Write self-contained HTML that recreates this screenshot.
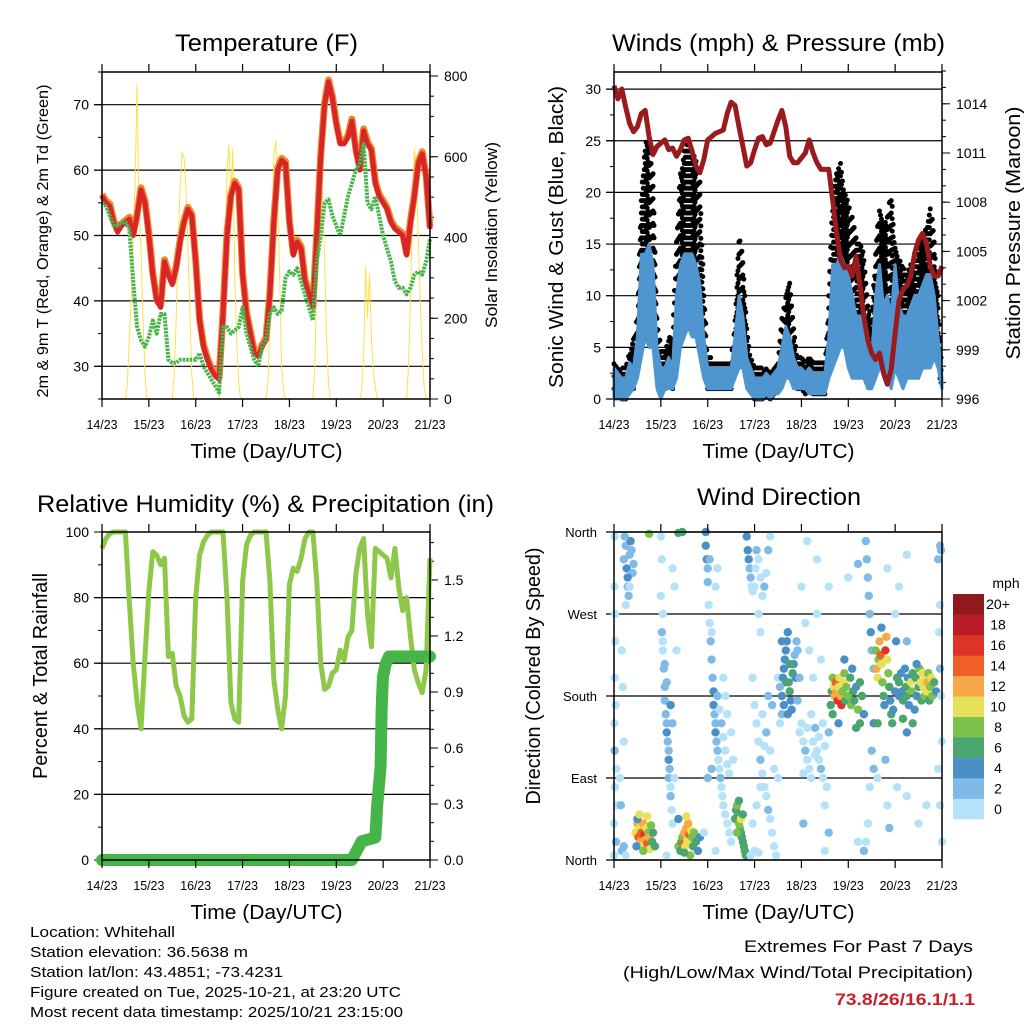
<!DOCTYPE html>
<html><head><meta charset="utf-8"><style>
html,body{margin:0;padding:0;background:#fff;}
svg{display:block;font-family:"Liberation Sans",sans-serif;}
</style></head><body>
<svg id="chart" width="1024" height="1024" viewBox="0 0 1024 1024" xmlns="http://www.w3.org/2000/svg">
<rect x="0" y="0" width="1024" height="1024" fill="#fff"/>
</svg>
<script>
// ---------- DATA ----------
const dayLabels = ['14/23','15/23','16/23','17/23','18/23','19/23','20/23','21/23'];
const hours2 = []; for (let h = 0; h <= 168; h += 2) hours2.push(h);
const tempRed = [56,55,54.5,52,50.5,51.5,52,52.5,50,53,57,55,50,44,40,39,46,44,42.5,45,49,52,54,53,46,37,33,31,29.5,28.5,28,38,50,56,58,57,44,38,35,32,31.5,33,34,41,52,60,61.5,61,52,47,49,48,43,41,39,50,62,70,73.5,71,67,64,64,65,67.5,63,60,66,64,63,58,56,55,54,52,51,50.5,50,47,52,56,61,62.5,59,51];
const dewGreen = [55,54.5,53,51.5,51.5,52,52,51,43,36,34,33,34.5,37,35,38,38,31,30.5,30.5,31,31,31,31,31,32,30,29,28,27,26,36,36,35,35.5,36,39,35,33,31,30,33,34,38,39,38,38.5,43.5,44.5,44,45,43,41,39,37,46,50,55,55.5,53,51.5,50,53,56,58,60,61,64,55,54,56,53,50,48,46,43,42,42,41,42,44,44.5,44,46,49.5];
const solarDay = [
 [0,40,150,250,400,550,780,450,380,200,60,0],
 [0,60,200,380,530,610,600,520,380,220,60,0],
 [0,50,180,350,560,630,500,620,300,150,40,0],
 [0,40,180,380,600,640,500,300,80,20,0,0],
 [0,80,300,480,560,500,350,150,40,0,0,0],
 [0,20,100,330,200,310,150,60,30,0,0,0],
 [0,80,250,450,620,560,400,250,120,30,0,0]
];
const windLo = [0,0,0,0,0.5,1,2,4,6,5,5,1,0,1,1,1,2,5,6,7,6,6,4,2,1,1,1,1,1,1,1,2,3,3,1,0.5,0,0,0,0.5,0,0.5,0.5,1,2,2,1,1,1,1,0.5,0.5,0.5,0.5,0.5,2,3,4,5,5,3,2,2,2,2,1,1,2,3,3,2,1,3,2,1,2,2,2,2,3,3,3,4,3,1,0];
const windHi = [3,2.5,2,2,3.5,3,6,14,14,15,13,5,3,3,4,3,10,13,14,14,14,13,11,6,3,3,3,3,3,3,3,6,10,8,4,3,2,2,2,2.5,2,2.5,3,5,7,6,4,3,3,2.5,3,2.5,2.5,2.5,2.5,6,13,13,14,13,12,10,8,8,7,5,4,10,13,9,10,8,13,9,8,8,9,10,10,11,12,12,10,6,2];
const gustHi = [4,3,3,3.5,4.5,6,8,20,25,25,22,8,5,5,6,6,16,22,24,26,24,23,21,11,4,4,3.5,3.5,3.5,3.5,4,8,16,14,7,4,3,3,3,3,3,3,4,8,10,12,7,4.5,4.5,3.5,4,3.5,3.5,3.5,3.5,10,20,22,23,20,19,18,16,15,14,10,7,15,19,17,18,20,15,14,13,12,13,13,16,16,17,19,16,10,3];
const pressure = [1015.1,1014.3,1014.9,1013.8,1012.8,1012.3,1012.6,1013.4,1013.6,1012,1010.9,1011.4,1011.6,1011.8,1011.2,1011.3,1010.8,1011.2,1011.8,1011.9,1011.1,1010.2,1009.8,1010.6,1011.8,1012,1012.2,1012.3,1012.4,1013.4,1014.1,1013.9,1012.6,1011.4,1010.2,1010.4,1011.2,1011.9,1012,1011.5,1011.6,1012.3,1013,1013.6,1012.6,1010.8,1010.4,1010.4,1010.7,1011,1011.8,1011,1010.4,1010,1010,1010,1008.1,1006.1,1004.5,1004,1004.1,1003.5,1004.7,1002.9,1001,999.6,998.8,998.4,998.8,997.6,996.9,997.8,1000,1002,1002.7,1002.9,1003.5,1004.9,1005.7,1006.1,1005.5,1004.1,1003.5,1003.5,1004.1];
const rhValues = [95,98,99.5,100,100,100,100,79,60,48,40,62,82,94,93,90,92,62,63,53,50,44,42,43,80,93,97,99,100,100,100,100,80,48,43,42,85,96,99,100,100,100,100,85,55,46,40,50,84,89,88,92,98,100,100,85,60,52,53,57,58,64,61,68,70,87,95,98,75,65,95,94,93,92,86,95,83,76,80,68,58,54,51,58,92];
const rainHours = [0,128,130,133,140,141,142.7,143.2,143.9,145.3,147,168];
const rainTotals = [0,0,0.04,0.1,0.12,0.3,0.5,0.8,0.98,1.05,1.09,1.09];
const wdHour = [0,0,0.5,0.3,0.2,0.4,0.6,0.2,0.3,1,1.5,0.8,1.2,0.5,
5,6,6.5,7,7.5,8,8.5,9,9.5,10,5.5,7,8,6,4,4.5,5,3,3.5,4,5,6,
11,12,12.5,13,13.5,14,14.5,15,15.5,16,16.5,17,17.5,18,18.5,19,19.5,20,21,12,11.5,13,15,17,
24,24.5,25,24.5,25,25.5,26,26,26.5,27,27,27.5,28,28,28.5,28,29,29,29.5,30,30,29,27,26,25,24,31,32,30,31,27,
33,34,34.5,35,35.5,36,36.5,37,37.5,38,38.5,39,39.5,40,40.5,41,42,43,44,33,37,39,36,18,33,35,
47,47,47.5,48,48,48.5,49,49.5,50,50.5,51,51,51.5,52,52,52.5,53,53.5,54,54.5,55,55.5,56,57,58,59,60,53,54,55,56,57,58,59,50,52,53,49,56,57,58,60,61,50,48,46,52,
62,62.5,63,63.5,64,64.5,65,65.5,66,66.5,67,65,64,66,63,67.5,
68,68.5,69,69.5,70,70.5,71,72,72.5,73,74,75,76,77,78,79,80,74,75,
71,72,73,74,75,76,77,78,79,80,81,82,83,76,78,80,82,84,85,86,84,79,81,77,75,73,71,70,72,74,
86,86.5,87,87.5,88,88.5,89,89.5,90,90.5,91,91.5,92,92.5,93,94,93.5,89,87,90,88,86,85,94,95,
95,96,97,98,99,100,101,102,103,104,105,106,107,108,109,110,97,99,101,103,105,107,100,98,104,96,102,106,108,110,108,97,
111,111.5,112,112.5,113,113.5,114,114.5,115,115.5,116,116.5,117,117.5,118,118.5,119,120,121,121.5,122,122.5,123,124,125,126,127,128,126,124,112,115,118,
129,129.5,130,130.5,131,131.5,132,133,132,133,131,130,129,133,
134,134.5,135,135.5,136,136.5,137,137.5,138,138.5,139,139.5,140,140.5,141,141.5,142,142.5,143,144,144.5,145,146,135,137,139,
146,147,147.5,148,149,149.5,150,150.5,151,152,152.5,153,154,154.5,155,156,156.5,157,157.5,158,158.5,159,159.5,160,160.5,161,161.5,162,162.5,163,164,165,148,153,150,155,
166,167,167,166.5,167,167.5,168,167,168,166,167.5,
99,104,110,120,125,140,150,146,135,140,145,150,125,128,141,156,160,150,144];
const wdDir = [5,40,80,120,150,200,240,300,355,20,60,170,100,270,
330,345,320,300,290,335,350,340,315,325,355,310,300,280,230,190,130,90,60,10,15,5,
30,40,25,35,20,30,15,40,28,22,35,18,30,25,12,38,20,30,15,45,15,50,10,48,
355,330,270,250,230,210,190,175,160,150,140,130,120,110,100,90,80,70,55,40,150,170,195,215,240,290,90,230,320,300,5,
15,10,20,25,18,30,15,35,22,40,28,20,32,25,15,30,20,10,25,45,48,5,8,358,359,360,
360,345,330,320,305,280,260,240,220,200,185,170,160,150,140,130,120,110,100,90,80,70,60,50,40,30,20,180,165,150,135,120,105,95,250,300,320,330,200,180,160,140,110,100,90,30,10,
45,55,60,50,40,35,30,25,20,15,10,45,65,50,30,5,
355,340,330,320,310,300,295,300,320,340,330,310,290,300,315,340,355,270,250,
200,170,150,130,110,95,80,70,55,45,30,15,5,160,140,120,100,90,150,160,200,180,170,125,80,60,40,5,10,8,
180,200,210,220,230,240,250,195,185,175,165,205,215,225,200,175,240,160,170,215,195,240,190,230,200,
140,150,130,120,110,100,90,130,145,120,110,100,90,125,80,140,95,145,160,115,135,150,230,260,270,300,200,220,60,30,10,40,
170,185,200,190,180,195,185,175,190,200,180,170,185,195,205,175,190,180,200,170,210,185,175,190,165,195,180,160,150,145,160,150,220,
350,330,310,290,270,250,230,210,120,100,80,40,20,150,
230,210,200,220,240,225,215,195,180,170,230,245,220,205,190,175,160,150,165,185,240,200,180,150,255,110,
195,205,185,175,210,190,180,200,170,195,185,205,165,200,180,190,210,195,175,205,190,180,200,185,195,205,175,190,200,180,195,185,155,150,140,215,
330,345,280,250,210,180,130,60,20,100,340,
350,330,300,310,325,320,335,300,90,60,80,70,20,10,35,40,60,240,270];
const wdSpeed = [1,1,1,2,1,1,1,1,1,3,1,1,1,1,
2,3,4,3,2,3,4,2,3,2,2,4,1,1,1,1,1,1,2,3,2,1,
10,12,14,11,12,15,10,12,16,13,11,14,9,12,11,8,7,6,6,4,5,10,8,11,
1,1,1,2,1,2,2,3,2,3,4,2,3,4,2,3,1,2,1,1,3,4,3,2,1,1,1,1,1,1,1,
8,6,7,9,14,12,11,13,10,12,15,11,10,9,7,8,6,5,4,5,10,9,7,8,7,7,
4,4,4,3,2,1,1,2,2,3,4,4,3,2,4,2,3,1,1,3,1,1,1,1,1,1,1,2,1,2,1,1,1,1,1,1,1,2,1,1,1,1,1,2,2,1,1,
7,6,8,7,8,9,7,6,6,7,6,10,6,7,8,6,
4,4,4,3,2,1,1,1,1,2,1,1,1,3,1,2,1,1,1,
1,1,1,1,2,1,1,1,3,1,1,1,1,1,2,1,1,1,1,3,1,2,3,1,1,1,1,1,1,1,
5,4,5,4,5,4,4,6,7,5,4,6,5,3,4,3,3,4,5,7,6,4,3,3,2,
1,1,1,2,1,1,1,1,2,1,1,3,1,1,1,2,1,1,1,1,1,1,1,1,1,1,1,1,1,3,1,2,
6,7,8,10,12,14,13,16,11,10,12,16,9,10,8,7,9,8,6,8,5,7,6,5,8,6,7,4,7,6,7,4,5,
3,2,3,2,2,4,3,3,3,2,1,1,1,4,
8,12,10,9,12,14,10,8,6,5,16,12,11,9,6,5,6,7,4,5,4,6,4,6,4,3,
6,5,4,6,4,7,6,5,4,10,8,6,5,7,4,6,8,10,6,11,10,9,11,10,12,8,7,9,10,8,6,5,6,6,4,4,
3,2,1,1,2,1,1,1,1,1,3,
1,1,1,1,3,1,1,1,1,1,1,1,1,2,2,1,1,3,1];
const speedColors = ['#b5e2f8','#7fbbe6','#4a8fc6','#4aa56f','#7bc24c','#e6e05a','#f7a847','#ef6029','#dd3328','#b81c24','#8e1a1c'];
const speedLabels = ['0','2','4','6','8','10','12','14','16','18','20+'];
const tempTicks = [30,40,50,60,70];
const solarTicks = [0,200,400,600,800];
const windTicks = [0,5,10,15,20,25,30];
const pressTicks = [996,999,1002,1005,1008,1011,1014];
const rhTicks = [0,20,40,60,80,100];
const rainTicks = ['0.0','0.3','0.6','0.9','1.2','1.5'];
const dirTicks = ['North','East','South','West','North'];

// ---------- HELPERS ----------
const NS = 'http://www.w3.org/2000/svg';
const svg = document.getElementById('chart');
function mk(tag, attrs, parent) {
  const e = document.createElementNS(NS, tag);
  for (const k in attrs) e.setAttribute(k, attrs[k]);
  (parent || svg).appendChild(e);
  return e;
}
function txt(x, y, s, size, anchor, extra) {
  const e = mk('text', Object.assign({x: x, y: y, 'font-size': size, 'text-anchor': anchor || 'middle', fill: '#000'}, extra || {}));
  e.textContent = s;
  return e;
}
function vtxt(x, y, s, size, len) {
  const e = mk('text', {x: 0, y: 0, 'font-size': size, 'text-anchor': 'middle', fill: '#000', transform: 'translate(' + x + ',' + y + ') rotate(-90)', textLength: len, lengthAdjust: 'spacingAndGlyphs'});
  e.textContent = s;
  return e;
}
const P1 = {x: 102, y: 72, w: 328, h: 327};
const P2 = {x: 614, y: 72, w: 328, h: 327};
const P3 = {x: 102, y: 532, w: 328, h: 328};
const P4 = {x: 614, y: 532, w: 328, h: 328};
const xs = (P, t) => P.x + t / 168 * P.w;
const yT = v => 399 - (v - 25) / 50 * 327;
const yS = v => 399 - v / 800 * 323;
const yW = v => 399 - v * 10.33;
const yP = p => 399 - (p - 996) * 16.4;
const yR = v => 860 - v * 3.28;
const yRain = v => 860 - v * 186.7;
const yD = d => 860 - d / 360 * 328;

function grid(P, vals, yf, name) {
  vals.forEach(v => {
    const y = yf(v);
    const l = mk('line', {x1: P.x - 8, x2: P.x + P.w, y1: y, y2: y, stroke: '#000', 'stroke-width': 1.2});
    
    
  });
}
function frame(P, name) {
  const r = mk('rect', {x: P.x, y: P.y, width: P.w, height: P.h, fill: 'none', stroke: '#000', 'stroke-width': 1.5});
  
  
  for (let d = 0; d <= 7; d++) {
    const x = xs(P, d * 24);
    const t1 = mk('line', {x1: x, x2: x, y1: P.y, y2: P.y - 8, stroke: '#000', 'stroke-width': 1.2});
    
    
    const t2 = mk('line', {x1: x, x2: x, y1: P.y + P.h, y2: P.y + P.h + 8, stroke: '#000', 'stroke-width': 1.2});
    
    
    const lb = txt(x, P.y + P.h + 30, dayLabels[d], 13, 'middle', {textLength: 31, lengthAdjust: 'spacingAndGlyphs'});
    
    
  }
  const xt = txt(P.x + P.w / 2 + 0.5, P.y + P.h + 59, 'Time (Day/UTC)', 20, 'middle', {textLength: 152, lengthAdjust: 'spacingAndGlyphs'});
  
  
}
function yticks(P, side, vals, yf, len, name) {
  vals.forEach(v => {
    const y = yf(v);
    const x0 = side === 'left' ? P.x : P.x + P.w;
    const x1 = side === 'left' ? P.x - len : P.x + P.w + len;
    const l = mk('line', {x1: x0, x2: x1, y1: y, y2: y, stroke: '#000', 'stroke-width': 1});
    
    
  });
}
function ylabels(P, side, vals, yf, labels, name) {
  vals.forEach((v, i) => {
    const y = yf(v);
    const x = side === 'left' ? P.x - 13 : P.x + P.w + 14;
    const t = txt(x, y + 5, labels ? labels[i] : String(v), 14, side === 'left' ? 'end' : 'start');
    
    
  });
}
function pathD(xsArr, ysArr) { return xsArr.map((x, i) => (i ? 'L' : 'M') + x.toFixed(1) + ',' + ysArr[i].toFixed(1)).join(''); }
function range(a, b, s) { const r = []; for (let v = a; v <= b + 1e-9; v += s) r.push(v); return r; }

// ---------- TITLES ----------
let e;
e = txt(266.5, 51, 'Temperature (F)', 24, 'middle', {textLength: 183, lengthAdjust: 'spacingAndGlyphs'});


e = txt(778.5, 51, 'Winds (mph) & Pressure (mb)', 24, 'middle', {textLength: 333, lengthAdjust: 'spacingAndGlyphs'});


e = txt(265.5, 512, 'Relative Humidity (%) & Precipitation (in)', 24, 'middle', {textLength: 457, lengthAdjust: 'spacingAndGlyphs'});


e = txt(779, 505, 'Wind Direction', 24, 'middle', {textLength: 164, lengthAdjust: 'spacingAndGlyphs'});



// ---------- PANEL 1: TEMPERATURE ----------
grid(P1, tempTicks, yT, 'temp-gridline');
yticks(P1, 'left', range(25, 75, 5), yT, 4, 'temp-minor-tick');
yticks(P1, 'left', tempTicks, yT, 8, 'temp-tick');
yticks(P1, 'right', range(0, 800, 50), yS, 4, 'solar-minor-tick');
yticks(P1, 'right', solarTicks, yS, 8, 'solar-tick');
ylabels(P1, 'left', tempTicks, yT, null, 'temp-tick-label');
ylabels(P1, 'right', solarTicks, yS, null, 'solar-tick-label');
e = vtxt(48, 241, '2m & 9m T (Red, Orange) & 2m Td (Green)', 16, 313);


e = vtxt(497, 235, 'Solar Insolation (Yellow)', 17, 186);


(function () {
  const sx = [], sy = [];
  for (let h = 0; h <= 168; h++) {
    const d = Math.floor((h - 12) / 24), o = h - 12 - d * 24;
    let v = 0;
    if (d >= 0 && d < solarDay.length && o < 12) v = solarDay[d][o];
    sx.push(xs(P1, h)); sy.push(yS(v));
  }
  const s = mk('path', {d: pathD(sx, sy), fill: 'none', stroke: '#ffe04a', 'stroke-width': 1});
  
  
  const px = hours2.map(h => xs(P1, h));
  const o = mk('path', {d: pathD(px, tempRed.map(v => yT(v + 0.3))), fill: 'none', stroke: '#f3872a', 'stroke-width': 7, 'stroke-linejoin': 'round'});
  
  
  const r = mk('path', {d: pathD(px, tempRed.map(yT)), fill: 'none', stroke: '#d7252a', 'stroke-width': 5, 'stroke-linejoin': 'round'});
  
  
  const g = mk('path', {d: pathD(px, dewGreen.map(yT)), fill: 'none', stroke: '#47b548', 'stroke-width': 4, 'stroke-dasharray': '2.5 1', 'stroke-linejoin': 'round'});
  
  
})();
frame(P1, 'temperature-plot-frame');

// ---------- PANEL 2: WINDS ----------
grid(P2, windTicks, yW, 'wind-gridline');
yticks(P2, 'left', range(0, 30, 2.5), yW, 4, 'wind-minor-tick');
yticks(P2, 'left', windTicks, yW, 8, 'wind-tick');
yticks(P2, 'right', range(996, 1016, 1), yP, 4, 'pressure-minor-tick');
yticks(P2, 'right', pressTicks, yP, 8, 'pressure-tick');
ylabels(P2, 'left', windTicks, yW, null, 'wind-tick-label');
ylabels(P2, 'right', pressTicks, yP, null, 'pressure-tick-label');
e = vtxt(563, 237, 'Sonic Wind & Gust (Blue, Black)', 20, 302);


e = vtxt(1020, 233, 'Station Pressure (Maroon)', 20, 253);


(function () {
  // gust dots: interpolate between 2-hour bins for a scattered look
  for (let i = 0; i < hours2.length - 1; i++) {
    for (let k = 0; k < 4; k++) {
      const f = k / 4;
      const h = hours2[i] + f * 2;
      const x = xs(P2, h);
      const g = gustHi[i] + (gustHi[i + 1] - gustHi[i]) * f;
      const bh = windHi[i] + (windHi[i + 1] - windHi[i]) * f;
      const start = Math.max(0, bh - 2) + (k % 2) * 0.6;
      for (let v = start; v <= g; v += 1.2) {
        const c = mk('circle', {cx: x, cy: yW(v), r: 2.5, fill: '#000'});
        
        
      }
    }
  }
  const px = hours2.map(h => xs(P2, h));
  const top = px.map((x, i) => x.toFixed(1) + ',' + yW(windHi[i]).toFixed(1));
  const bot = px.map((x, i) => x.toFixed(1) + ',' + yW(windLo[i]).toFixed(1)).reverse();
  const b = mk('polygon', {points: top.concat(bot).join(' '), fill: '#4f96d0', stroke: '#4f96d0', 'stroke-width': 3, 'stroke-linejoin': 'round'});
  
  
  const p = mk('path', {d: pathD(px, pressure.map(yP)), fill: 'none', stroke: '#9a1b1e', 'stroke-width': 5, 'stroke-linejoin': 'round'});
  
  
})();
frame(P2, 'winds-plot-frame');

// ---------- PANEL 3: RH ----------
grid(P3, rhTicks.slice(1, 5), yR, 'rh-gridline');
yticks(P3, 'left', range(0, 100, 10), yR, 4, 'rh-minor-tick');
yticks(P3, 'left', rhTicks, yR, 8, 'rh-tick');
yticks(P3, 'right', range(0, 1.7, 0.1), yRain, 4, 'rain-minor-tick');
yticks(P3, 'right', rainTicks.map(Number), yRain, 8, 'rain-tick');
ylabels(P3, 'left', rhTicks, yR, null, 'rh-tick-label');
ylabels(P3, 'right', rainTicks.map(Number), yRain, rainTicks, 'rain-tick-label');
e = vtxt(47, 676, 'Percent & Total Rainfall', 20, 206);


(function () {
  const r = mk('path', {d: pathD(hours2.map(h => xs(P3, h)), rhValues.map(yR)), fill: 'none', stroke: '#8dc84b', 'stroke-width': 5, 'stroke-linejoin': 'round'});
  
  
  const p = mk('path', {d: pathD(rainHours.map(h => xs(P3, h)), rainTotals.map(yRain)), fill: 'none', stroke: '#45b449', 'stroke-width': 12, 'stroke-linecap': 'round', 'stroke-linejoin': 'round'});
  
  
})();
frame(P3, 'humidity-plot-frame');

// ---------- PANEL 4: WIND DIRECTION ----------
(function () {
  const dirVals = [0, 90, 180, 270, 360];
  grid(P4, dirVals, yD, 'direction-gridline');
  dirVals.forEach((d, i) => {
    const t = txt(P4.x - 17, yD(d) + 5, dirTicks[i], 13, 'end');
    
    
  });
  wdHour.forEach((h, i) => {
    const bin = Math.min(10, Math.floor(wdSpeed[i] / 2));
    const c = mk('circle', {cx: xs(P4, h), cy: yD(wdDir[i]), r: 4.2, fill: speedColors[bin]});
    
    
  });
  const bh = (819 - 594) / speedColors.length;
  speedColors.forEach((col, i) => {
    const y = 819 - (i + 1) * bh;
    const r = mk('rect', {x: 953, y: y, width: 31, height: bh + 0.3, fill: col});
    
    
    const t = txt(998, y + bh / 2 + 5, speedLabels[i], 14, 'middle');
    
    
  });
  const m = txt(1006, 588, 'mph', 14, 'middle');
  
  
})();
e = vtxt(540, 676, 'Direction (Colored By Speed)', 20, 257);


frame(P4, 'direction-plot-frame');

// ---------- INFO TEXT ----------
const info = [['Location: Whitehall', 145], ['Station elevation: 36.5638 m', 218], ['Station lat/lon: 43.4851; -73.4231', 253], ['Figure created on Tue, 2025-10-21, at 23:20 UTC', 371], ['Most recent data timestamp: 2025/10/21 23:15:00', 373]];
info.forEach((it, i) => {
  const t = txt(30, 937 + i * 20, it[0], 14.5, 'start', {textLength: it[1], lengthAdjust: 'spacingAndGlyphs'});
  
  
});
e = txt(973, 952, 'Extremes For Past 7 Days', 17, 'end', {textLength: 229, lengthAdjust: 'spacingAndGlyphs'});


e = txt(973, 978, '(High/Low/Max Wind/Total Precipitation)', 17, 'end', {textLength: 350, lengthAdjust: 'spacingAndGlyphs'});


e = txt(975, 1005, '73.8/26/16.1/1.1', 17, 'end', {'font-weight': 'bold', fill: '#c8202a', textLength: 140, lengthAdjust: 'spacingAndGlyphs'});


</script>
</body></html>
